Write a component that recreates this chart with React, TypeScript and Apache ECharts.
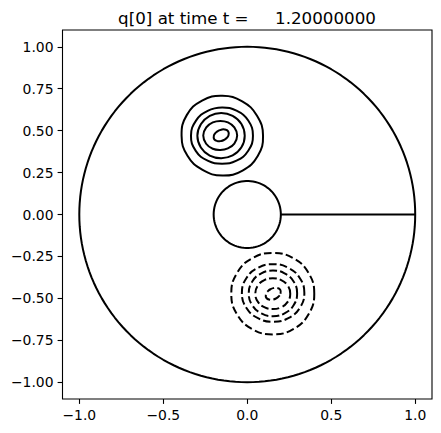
import React, { useEffect, useRef } from "react";
import * as echarts from "echarts";

// Title and ticks
const titleText = "q[0] at time t =     1.20000000";
const xTicks = [-1.0, -0.5, 0.0, 0.5, 1.0];
const yTicks = [-1.0, -0.75, -0.5, -0.25, 0.0, 0.25, 0.5, 0.75, 1.0];

// Domain: annulus with a slit
const outerRadius = 1.0;
const innerRadius = 0.2;
const slitX = [0.2, 1.0];

// Contours described by centre and radius read at these angles (degrees)
const angles = [0, 30, 60, 90, 120, 150, 180, 210, 240, 270, 300, 330];

// positive (solid) contours, outermost first
const posCx = [-0.148, -0.150, -0.155, -0.160, -0.155];
const posCy = [0.470, 0.470, 0.470, 0.471, 0.472];
const posRadii = [
  [0.242, 0.238, 0.236, 0.238, 0.242, 0.245, 0.243, 0.240, 0.236, 0.238, 0.240, 0.243],
  [0.184, 0.180, 0.172, 0.168, 0.171, 0.179, 0.185, 0.181, 0.172, 0.167, 0.172, 0.180],
  [0.140, 0.139, 0.136, 0.135, 0.136, 0.139, 0.142, 0.140, 0.137, 0.134, 0.136, 0.139],
  [0.100, 0.096, 0.090, 0.087, 0.090, 0.097, 0.102, 0.098, 0.091, 0.086, 0.089, 0.096],
  [0.0434, 0.0478, 0.0404, 0.0337, 0.0321, 0.0354, 0.0434, 0.0478, 0.0404, 0.0337, 0.0321, 0.0354],
];

// negative (dashed) contours, outermost first
const negCx = [0.152, 0.154, 0.153, 0.152, 0.155];
const negCy = [-0.472, -0.468, -0.470, -0.472, -0.473];
const negRadii = [
  [0.247, 0.246, 0.244, 0.243, 0.244, 0.246, 0.247, 0.246, 0.244, 0.243, 0.244, 0.246],
  [0.186, 0.182, 0.175, 0.172, 0.175, 0.182, 0.186, 0.182, 0.175, 0.172, 0.175, 0.182],
  [0.144, 0.142, 0.138, 0.136, 0.138, 0.142, 0.144, 0.142, 0.138, 0.136, 0.138, 0.142],
  [0.104, 0.101, 0.095, 0.092, 0.095, 0.101, 0.104, 0.101, 0.095, 0.092, 0.095, 0.101],
  [0.0430, 0.0478, 0.0410, 0.0340, 0.0321, 0.0350, 0.0430, 0.0478, 0.0410, 0.0340, 0.0321, 0.0350],
];

function circlePoints(r: number, n: number) {
  const pts: number[][] = [];
  for (let i = 0; i <= n; i++) {
    const t = (i / n) * Math.PI * 2;
    pts.push([r * Math.cos(t), r * Math.sin(t)]);
  }
  return pts;
}

function contourPoints(cx: number, cy: number, radii: number[]) {
  return angles.map((a, i) => {
    const t = (a * Math.PI) / 180;
    return [cx + radii[i] * Math.cos(t), cy + radii[i] * Math.sin(t)];
  });
}

const fmt = (v: number, d: number) => v.toFixed(d).replace("-", "\u2212");

export default function App() {
  const ref = useRef<HTMLDivElement>(null);
  useEffect(() => {
    if (!ref.current) return;
    const chart = echarts.init(ref.current, null, { renderer: "svg" });
    const black = "#000000";
    const lw = 2.0;
    const series: any[] = [];
    const lineBase = { type: "line", symbol: "none", silent: true, animation: false };
    series.push({ ...lineBase, data: circlePoints(outerRadius, 180), lineStyle: { color: black, width: lw } });
    series.push({ ...lineBase, data: circlePoints(innerRadius, 90), lineStyle: { color: black, width: lw } });
    series.push({ ...lineBase, data: [[slitX[0], 0], [slitX[1], 0]], lineStyle: { color: black, width: lw } });

    const contourSeries = (cxs: number[], cys: number[], radii: number[][], dash: number[] | null) => ({
      type: "custom",
      silent: true,
      animation: false,
      coordinateSystem: "cartesian2d",
      data: radii.map((_, i) => [cxs[i], cys[i], i]),
      encode: { x: 0, y: 1 },
      renderItem: (params: any, api: any) => {
        const i = api.value(2);
        const pts = contourPoints(cxs[i], cys[i], radii[i]).map((p) => api.coord(p));
        return {
          type: "polygon",
          shape: { points: pts, smooth: 0.45 },
          style: { fill: "none", stroke: black, lineWidth: lw, lineDash: dash || undefined },
        };
      },
    });
    series.push(contourSeries(posCx, posCy, posRadii, null));
    series.push(contourSeries(negCx, negCy, negRadii, [7.7, 3.3]));

    const font = "DejaVu Sans";
    chart.setOption({
      animation: false,
      grid: { left: 62.5, top: 30, width: 369.5, height: 369, show: true, borderColor: black, borderWidth: 1.1, backgroundColor: "transparent" },
      xAxis: {
        type: "value", min: -1.1, max: 1.1,
        axisLine: { show: false, onZero: false },
        splitLine: { show: false },
        axisTick: { show: true, inside: false, length: 4.9, lineStyle: { color: black, width: 1.1 }, customValues: xTicks },
        axisLabel: { customValues: xTicks, color: black, fontSize: 13.9, fontFamily: font, margin: 9, formatter: (v: number) => fmt(v, 1) },
      },
      yAxis: {
        type: "value", min: -1.1, max: 1.1,
        axisLine: { show: false, onZero: false },
        splitLine: { show: false },
        axisTick: { show: true, inside: false, length: 4.9, lineStyle: { color: black, width: 1.1 }, customValues: yTicks },
        axisLabel: { customValues: yTicks, color: black, fontSize: 13.9, fontFamily: font, margin: 9, formatter: (v: number) => fmt(v, 2) },
      },
      graphic: [
        {
          type: "text", x: 247, y: 18,
          style: { text: titleText, fontSize: 16.7, fontFamily: font, fill: black, textAlign: "center", textVerticalAlign: "middle" },
        },
      ],
      series,
    });
    return () => chart.dispose();
  }, []);
  return <div ref={ref} style={{ position: "fixed", left: 0, top: 0, width: 441, height: 433, background: "#fff" }} />;
}
